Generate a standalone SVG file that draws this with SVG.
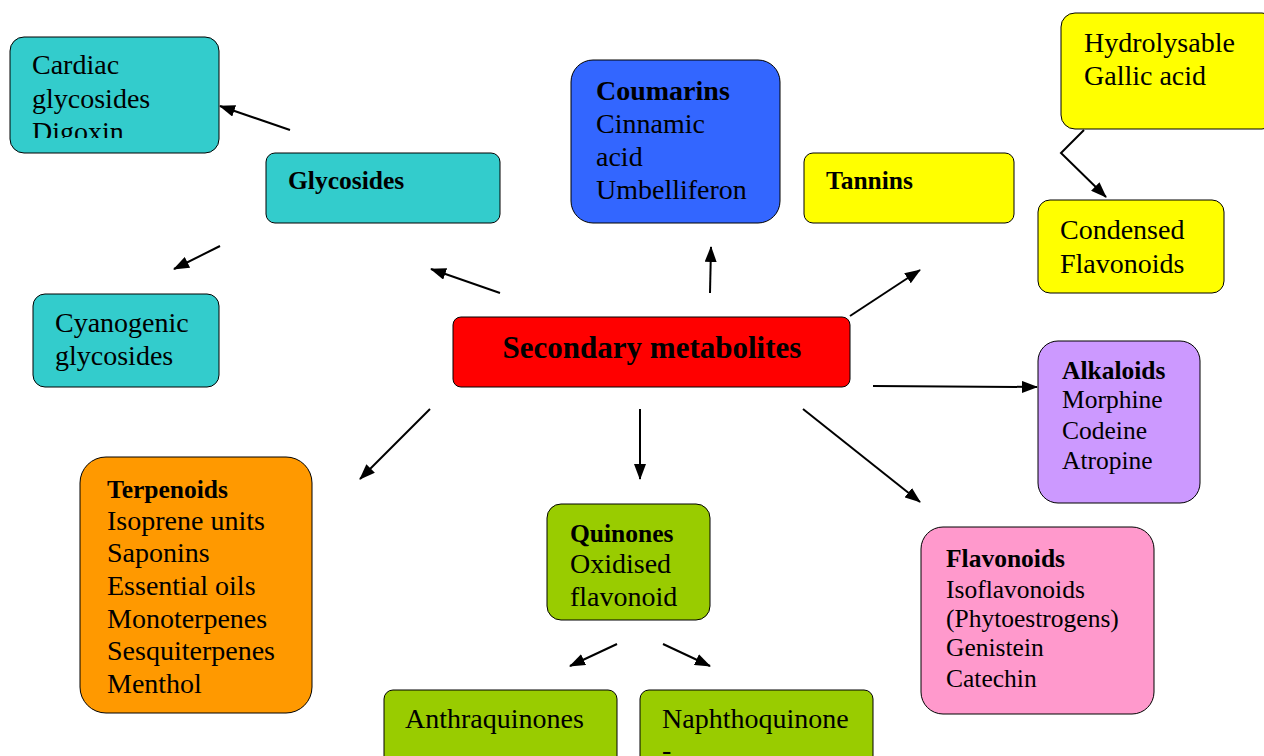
<svg xmlns="http://www.w3.org/2000/svg" width="1264" height="756" viewBox="0 0 1264 756">
<defs>
<marker id="ah" markerWidth="16" markerHeight="12" refX="15" refY="6" orient="auto" markerUnits="userSpaceOnUse">
<path d="M0,0 L16,6 L0,12 Z" fill="#000"/>
</marker>
<clipPath id="clipCard"><rect x="10" y="37" width="209" height="101"/></clipPath>
</defs>
<style>
.box{stroke:#000;stroke-width:1}
text{font-family:"Liberation Serif","Times New Roman",serif;fill:#000}
.t{font-size:28px}
.b{font-weight:bold}
.s{font-size:25.5px}
.h{font-size:25.5px;font-weight:bold}
.c line,.c polyline{stroke:#000;stroke-width:2;fill:none;marker-end:url(#ah)}
</style>
<rect width="1264" height="756" fill="#fff"/>
<g id="cardiac">
<rect class="box" x="10" y="37" width="209" height="116" rx="14" fill="#33CCCC"/>
<g clip-path="url(#clipCard)">
<text class="t" x="32" y="74">Cardiac</text>
<text class="t" x="32" y="108">glycosides</text>
<text class="t" x="32" y="141">Digoxin</text>
</g>
</g>
<g id="glycosides">
<rect class="box" x="266" y="153" width="234" height="70" rx="9" fill="#33CCCC"/>
<text class="h" x="288" y="189">Glycosides</text>
</g>
<g id="cyanogenic">
<rect class="box" x="33" y="294" width="186" height="93" rx="12" fill="#33CCCC"/>
<text class="t" x="55" y="332">Cyanogenic</text>
<text class="t" x="55" y="365">glycosides</text>
</g>
<g id="coumarins">
<rect class="box" x="571" y="60" width="209" height="163" rx="22" fill="#3366FF"/>
<text class="t b" x="596" y="100">Coumarins</text>
<text class="t" x="596" y="133">Cinnamic</text>
<text class="t" x="596" y="166">acid</text>
<text class="t" x="596" y="199">Umbelliferon</text>
</g>
<g id="tannins">
<rect class="box" x="804" y="153" width="210" height="70" rx="9" fill="#FFFF00"/>
<text class="h" x="826" y="189">Tannins</text>
</g>
<g id="hydrolysable">
<rect class="box" x="1061" y="13" width="215" height="116" rx="14" fill="#FFFF00"/>
<text class="t" x="1084" y="52">Hydrolysable</text>
<text class="t" x="1084" y="85">Gallic acid</text>
</g>
<g id="condensed">
<rect class="box" x="1038" y="200" width="186" height="93" rx="12" fill="#FFFF00"/>
<text class="t" x="1060" y="239">Condensed</text>
<text class="t" x="1060" y="273">Flavonoids</text>
</g>
<g id="secondary">
<rect class="box" x="453" y="317" width="397" height="70" rx="8" fill="#FF0000"/>
<text class="b" x="652" y="358" font-size="31" text-anchor="middle">Secondary metabolites</text>
</g>
<g id="alkaloids">
<rect class="box" x="1038" y="341" width="162" height="162" rx="20" fill="#CC99FF"/>
<text class="h" x="1062" y="379">Alkaloids</text>
<text class="s" x="1062" y="408">Morphine</text>
<text class="s" x="1062" y="439">Codeine</text>
<text class="s" x="1062" y="469">Atropine</text>
</g>
<g id="terpenoids">
<rect class="box" x="80" y="457" width="232" height="256" rx="26" fill="#FF9900"/>
<text class="h" x="107" y="498">Terpenoids</text>
<text class="t" x="107" y="530">Isoprene units</text>
<text class="t" x="107" y="562">Saponins</text>
<text class="t" x="107" y="595">Essential oils</text>
<text class="t" x="107" y="628">Monoterpenes</text>
<text class="t" x="107" y="660">Sesquiterpenes</text>
<text class="t" x="107" y="693">Menthol</text>
</g>
<g id="quinones">
<rect class="box" x="547" y="504" width="163" height="116" rx="14" fill="#99CC00"/>
<text class="h" x="570" y="542">Quinones</text>
<text class="t" x="570" y="573">Oxidised</text>
<text class="t" x="570" y="606">flavonoid</text>
</g>
<g id="flavonoids">
<rect class="box" x="921" y="527" width="233" height="187" rx="22" fill="#FF99CC"/>
<text class="h" x="946" y="567">Flavonoids</text>
<text class="s" x="946" y="598">Isoflavonoids</text>
<text class="s" x="946" y="627">(Phytoestrogens)</text>
<text class="s" x="946" y="656">Genistein</text>
<text class="s" x="946" y="687">Catechin</text>
</g>
<g id="anthraquinones">
<rect class="box" x="384" y="690" width="233" height="80" rx="9" fill="#99CC00"/>
<text class="t" x="405" y="728">Anthraquinones</text>
</g>
<g id="naphthoquinone">
<rect class="box" x="640" y="690" width="233" height="80" rx="9" fill="#99CC00"/>
<text class="t" x="662" y="728">Naphthoquinone</text>
<text class="t" x="662" y="759">-</text>
</g>
<g id="connectors" class="c">
<line x1="290" y1="130" x2="220" y2="106"/>
<line x1="220" y1="246" x2="174" y2="269"/>
<line x1="500" y1="293" x2="431" y2="269"/>
<line x1="710" y1="293" x2="711" y2="247"/>
<line x1="850" y1="316" x2="920" y2="270"/>
<polyline points="1084,130 1061,153 1106,197"/>
<line x1="873" y1="386" x2="1037" y2="387"/>
<line x1="803" y1="409" x2="920" y2="502"/>
<line x1="640" y1="409" x2="640" y2="479"/>
<line x1="430" y1="409" x2="360" y2="479"/>
<line x1="617" y1="644" x2="570" y2="666"/>
<line x1="663" y1="644" x2="710" y2="666"/>
</g>
</svg>
